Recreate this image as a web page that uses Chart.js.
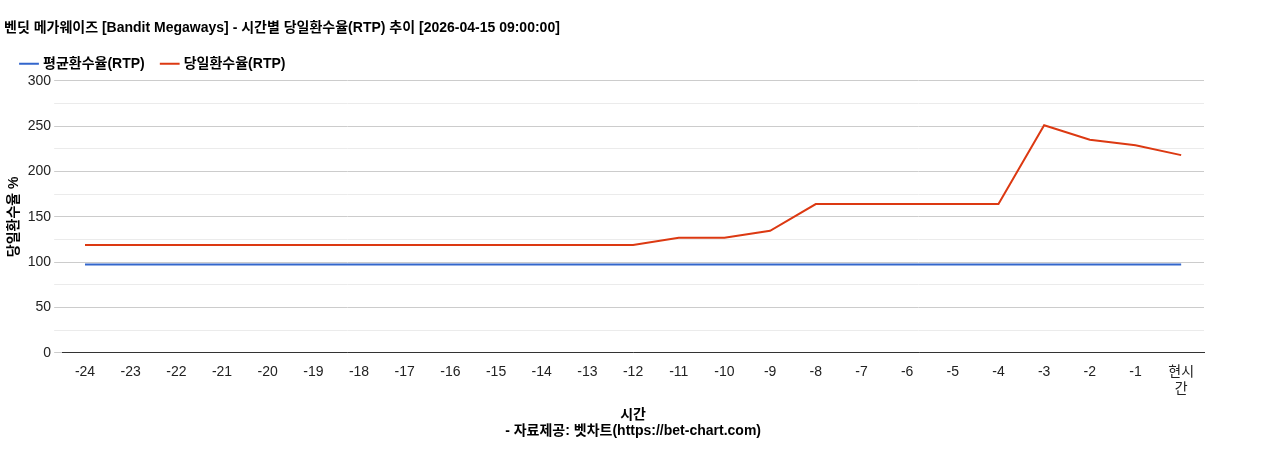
<!DOCTYPE html>
<html lang="ko">
<head>
<meta charset="UTF-8">
<title>벤딧 메가웨이즈 RTP</title>
<style>
  body { margin: 0; background: #fff; }
  #wrap { width: 1268px; height: 450px; }
</style>
<script src="https://cdn.jsdelivr.net/npm/chart.js"></script>
</head>
<body>
<div id="wrap"><canvas id="myChart"></canvas></div>
<script>
const labels = ['-24','-23','-22','-21','-20','-19','-18','-17','-16','-15','-14','-13','-12','-11','-10','-9','-8','-7','-6','-5','-4','-3','-2','-1',['현시','간']];
const avgRtp = [97.5,97.5,97.5,97.5,97.5,97.5,97.5,97.5,97.5,97.5,97.5,97.5,97.5,97.5,97.5,97.5,97.5,97.5,97.5,97.5,97.5,97.5,97.5,97.5,97.5];
const dayRtp = [119,119,119,119,119,119,119,119,119,119,119,119,119,127,127,134.5,164,164,164,164,164,251,235,229,218];

Chart.defaults.font.family = "'Liberation Sans', Arial, 'Noto Sans CJK KR', sans-serif";
Chart.defaults.color = '#222';

new Chart(document.getElementById('myChart'), {
  type: 'line',
  data: {
    labels: labels,
    datasets: [
      { label: '평균환수율(RTP)', data: avgRtp, borderColor: '#3366cc', backgroundColor: '#3366cc', borderWidth: 2, pointRadius: 0, tension: 0 },
      { label: '당일환수율(RTP)', data: dayRtp, borderColor: '#dc3912', backgroundColor: '#dc3912', borderWidth: 2, pointRadius: 0, tension: 0 }
    ]
  },
  options: {
    responsive: true,
    maintainAspectRatio: false,
    animation: false,
    layout: { padding: { left: 4, right: 64, top: 20, bottom: 6 } },
    plugins: {
      title: { display: true, text: '벤딧 메가웨이즈 [Bandit Megaways] - 시간별 당일환수율(RTP) 추이 [2026-04-15 09:00:00]', align: 'start', font: { size: 14, weight: 'bold' }, color: '#000', padding: { top: 0, bottom: 2 } },
      legend: { align: 'start', labels: { usePointStyle: true, pointStyle: 'line', boxWidth: 30, padding: 18, font: { size: 14, weight: 'bold' }, color: '#000' } },
      tooltip: { enabled: false }
    },
    scales: {
      x: {
        offset: true,
        grid: { display: false },
        border: { color: '#333' },
        ticks: { font: { size: 14 }, color: '#222', maxRotation: 0, autoSkip: false },
        title: { display: true, text: ['시간', '- 자료제공: 벳차트(https://bet-chart.com)'], font: { size: 14, weight: 'bold' }, color: '#000', padding: { top: 6 } }
      },
      y: {
        min: 0, max: 300,
        border: { display: false },
        ticks: { stepSize: 25, font: { size: 14 }, color: '#222', callback: v => v % 50 === 0 ? v : '' },
        grid: { color: ctx => ctx.tick.value % 50 === 0 ? '#cccccc' : '#ebebeb' },
        title: { display: true, text: '당일환수율 %', font: { size: 14, weight: 'bold' }, color: '#000', padding: 2 }
      }
    }
  }
});
</script>
</body>
</html>
